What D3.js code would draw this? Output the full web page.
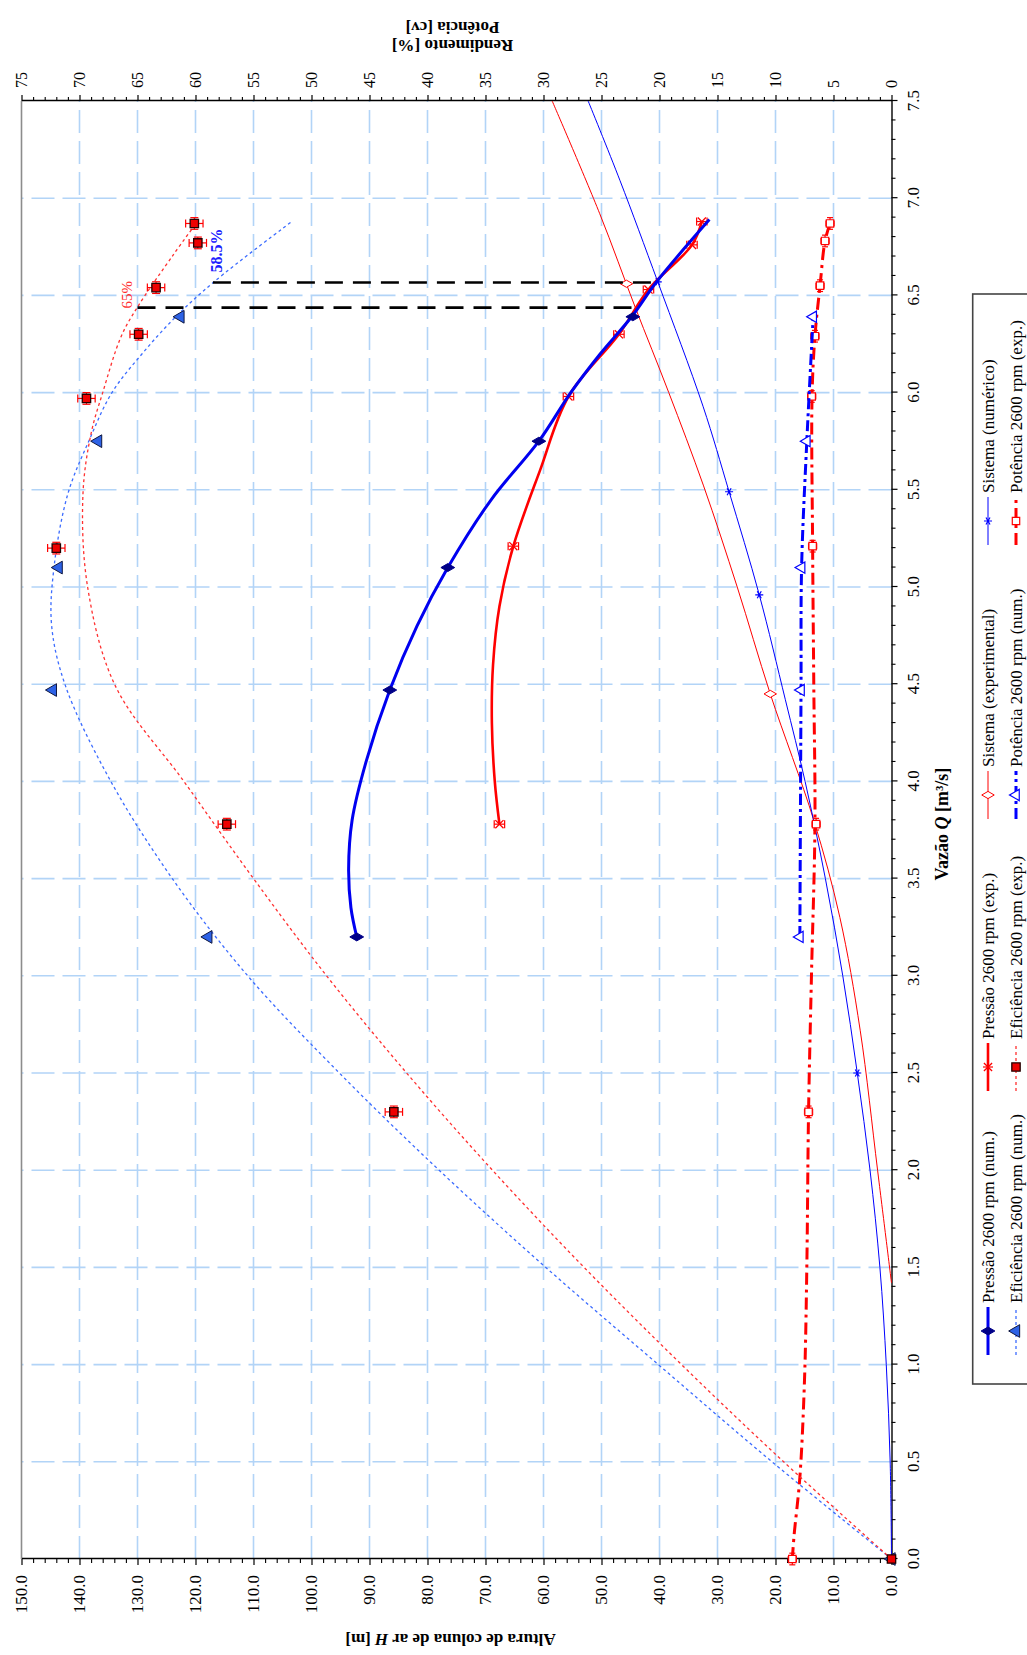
<!DOCTYPE html>
<html>
<head>
<meta charset="utf-8">
<script src="https://cdn.jsdelivr.net/npm/d3@7"></script>
<style>
  html, body { margin: 0; padding: 0; background: #ffffff; }
  svg { display: block; }
  text { font-family: "Liberation Serif", "Times New Roman", serif; fill: #000; }
</style>
</head>
<body>
<svg id="chart" width="1027" height="1655"></svg>
<script>
// ---------------- axis ticks ----------------
const qTickValues = [0.0, 0.5, 1.0, 1.5, 2.0, 2.5, 3.0, 3.5, 4.0, 4.5, 5.0, 5.5, 6.0, 6.5, 7.0, 7.5];
const hTickValues = [0, 10, 20, 30, 40, 50, 60, 70, 80, 90, 100, 110, 120, 130, 140, 150];
const rTickValues = [0, 5, 10, 15, 20, 25, 30, 35, 40, 45, 50, 55, 60, 65, 70, 75];

// ---------------- pressure (H, m) ----------------
const pressNumQ = [3.2, 4.47, 5.1, 5.75, 6.39];
const pressNumH = [92.2, 86.5, 76.5, 60.8, 44.6];
const pressNumFitQ = [3.2, 3.35, 3.55, 3.8, 4.1, 4.47, 4.8, 5.1, 5.45, 5.75, 6.0, 6.2, 6.39, 6.57, 6.89];
const pressNumFitH = [92.2, 93.2, 93.6, 93.0, 90.6, 86.5, 81.8, 76.5, 69.0, 60.8, 55.3, 50.2, 44.8, 40.5, 31.4];

const pressExpQ = [3.78, 5.21, 5.98, 6.30, 6.53, 6.76, 6.88];
const pressExpH = [67.6, 65.2, 55.7, 47.0, 41.9, 34.4, 32.7];
const pressExpFitQ = [3.78, 4.0, 4.3, 4.6, 4.9, 5.21, 5.6, 5.98, 6.30, 6.53, 6.76, 6.88];
const pressExpFitH = [67.6, 68.4, 68.9, 68.7, 67.6, 65.2, 60.6, 55.7, 47.0, 41.9, 34.4, 32.7];
const pressExpErr = 0.9;

// ---------------- system curves (H, m) ----------------
const sysExpQ = [1.42, 2.0, 2.72, 3.3, 3.8, 4.45, 5.0, 5.52, 6.0, 6.44, 6.92, 7.5];
const sysExpH = [0.0, 2.4, 5.4, 8.9, 13.4, 20.9, 26.6, 32.4, 38.4, 44.2, 50.3, 58.5];
const sysExpMarkQ = [4.45, 6.56];
const sysExpMarkH = [20.9, 45.7];

const sysNumQ = [0.0, 0.5, 1.0, 1.5, 2.0, 2.5, 3.0, 3.5, 4.0, 4.42, 4.96, 5.49, 5.93, 6.57, 7.09, 7.5];
const sysNumH = [0.0, 0.23, 0.9, 2.0, 3.7, 5.9, 8.4, 11.4, 14.9, 18.3, 22.8, 28.0, 32.5, 40.3, 46.8, 52.3];
const sysNumMarkQ = [2.5, 4.96, 5.49, 6.57];
const sysNumMarkH = [5.9, 22.8, 28.0, 40.3];

// ---------------- efficiency (%) ----------------
const effNumQ = [0.0, 3.2, 4.47, 5.1, 5.75, 6.39];
const effNumR = [0.0, 58.9, 72.3, 71.8, 68.4, 61.3];
const effNumFitQ = [0.0, 0.5, 1.0, 1.5, 2.0, 2.5, 3.0, 3.5, 4.0, 4.49, 4.8, 5.1, 5.48, 5.75, 6.0, 6.2, 6.39, 6.57, 6.88];
const effNumFitR = [0.0, 10.3, 20.1, 29.8, 39.0, 47.6, 55.5, 62.0, 67.3, 71.2, 72.4, 72.2, 71.0, 69.2, 67.2, 64.6, 61.7, 58.4, 51.7];

const effExpQ = [0.0, 2.30, 3.78, 5.20, 5.97, 6.30, 6.54, 6.77, 6.87];
const effExpR = [0.0, 42.9, 57.3, 72.0, 69.4, 64.9, 63.4, 59.8, 60.1];
const effExpFitQ = [0.0, 0.5, 1.0, 1.5, 2.0, 2.5, 3.0, 3.5, 4.0, 4.49, 5.0, 5.48, 5.79, 6.0, 6.29, 6.44, 6.71, 6.85];
const effExpFitR = [0.0, 9.3, 18.1, 26.5, 34.4, 41.8, 48.7, 55.0, 61.0, 66.9, 69.3, 69.7, 69.0, 68.0, 66.4, 65.0, 61.9, 60.2];
const effExpErrR = 0.75;
const effExpErrQ = 0.03;

// ---------------- power (cv) ----------------
const potNumQ = [3.2, 4.47, 5.1, 5.75, 6.39];
const potNumP = [7.9, 7.8, 7.75, 7.3, 6.75];

const potExpQ = [0.0, 2.30, 3.78, 5.21, 5.98, 6.29, 6.55, 6.78, 6.87];
const potExpP = [8.55, 7.15, 6.5, 6.8, 6.88, 6.6, 6.16, 5.73, 5.3];
const potExpFitQ = [0.0, 0.12, 0.42, 0.92, 1.5, 2.3, 3.0, 3.78, 4.5, 5.21, 5.98, 6.29, 6.55, 6.78, 6.87];
const potExpFitP = [8.55, 8.4, 7.9, 7.5, 7.3, 7.15, 6.9, 6.6, 6.7, 6.8, 6.85, 6.6, 6.16, 5.73, 5.3];
const potExpErr = 0.35;

// ---------------- operating points ----------------
const opQ = [6.437, 6.566];
const opEff = [65, 58.5];
const opH = [44.2, 40.5];
const opLabels = ["65%", "58.5%"];

// ---------------- legend ----------------
const legendLabels = [
  ["Pressão 2600 rpm (num.)", "Pressão 2600 rpm (exp.)", "Sistema (experimental)", "Sistema (numérico)"],
  ["Eficiência 2600 rpm (num.)", "Eficiência 2600 rpm (exp.)", "Potência 2600 rpm (num.)", "Potência 2600 rpm (exp.)"]
];
const legendKeys = [
  ["pressNum", "pressExp", "sysExp", "sysNum"],
  ["effNum", "effExp", "potNum", "potExp"]
];

// ---------------- styles ----------------
const styles = {
  pressNum: { color: "#0000f0", width: 3, dash: null, marker: "diamond", msize: 55, mfill: "#000088", mstroke: "#000088", mw: 1 },
  pressExp: { color: "#ff0000", width: 2.6, dash: null, marker: "times", msize: 45, mfill: "none", mstroke: "#ff0000", mw: 1.3 },
  sysExp:   { color: "#ff0000", width: 1, dash: null, marker: "diamond", msize: 45, mfill: "#ffffff", mstroke: "#ff0000", mw: 1 },
  sysNum:   { color: "#0000ff", width: 1, dash: null, marker: "asterisk", msize: 45, mfill: "none", mstroke: "#0000ff", mw: 1.2 },
  effNum:   { color: "#3c6cff", width: 1.3, dash: "3,3", marker: "triangle", msize: 70, mfill: "#2d62e6", mstroke: "#101840", mw: 1 },
  effExp:   { color: "#ff3030", width: 1.3, dash: "3,3", marker: "square", msize: 70, mfill: "#ee0000", mstroke: "#220000", mw: 1.3 },
  potNum:   { color: "#0000ff", width: 3, dash: "11,4,3,4", marker: "triangle", msize: 55, mfill: "#ffffff", mstroke: "#0000ff", mw: 1.2 },
  potExp:   { color: "#ff0000", width: 3, dash: "12,5,3,5", marker: "square", msize: 55, mfill: "#ffffff", mstroke: "#ff0000", mw: 1.2 }
};

// ---------------- layout ----------------
// The chart is built in its natural landscape frame and then turned a quarter
// turn counter-clockwise so that it fills the portrait page.
const svg = d3.select("#chart");
const root = svg.append("g").attr("transform", "translate(0,1655) rotate(-90)");

const x = d3.scaleLinear().domain([0, 7.5]).range([96, 1554]);
const yH = d3.scaleLinear().domain([0, 150]).range([891.5, 21.5]);
const yR = d3.scaleLinear().domain([0, 75]).range([891.5, 21.5]);

const zip = (a, b) => a.map((v, i) => [v, b[i]]);

// ---------------- grid ----------------
const grid = root.append("g")
  .attr("stroke", "#b2d4f7").attr("stroke-width", 1.6).attr("stroke-dasharray", "23,8").attr("fill", "none");
grid.selectAll("line.gv").data(qTickValues.filter(v => v > 0 && v < 7.5)).join("line")
  .attr("class", "gv")
  .attr("x1", d => x(d)).attr("x2", d => x(d))
  .attr("y1", yH(0)).attr("y2", yH(150));
grid.selectAll("line.gh").data(hTickValues.filter(v => v > 0 && v < 150)).join("line")
  .attr("class", "gh")
  .attr("x1", x(0)).attr("x2", x(7.5))
  .attr("y1", d => yH(d)).attr("y2", d => yH(d));

// top frame
root.append("line")
  .attr("x1", x(0)).attr("x2", x(7.5)).attr("y1", yH(150)).attr("y2", yH(150))
  .attr("stroke", "#8c8c8c").attr("stroke-width", 1.6);

// ---------------- axes ----------------
function styleAxis(g, size) {
  g.attr("font-family", null).attr("font-size", null);
  g.select(".domain").attr("stroke", "#000").attr("stroke-width", 1.4);
  g.selectAll(".tick line").attr("stroke", "#000").attr("stroke-width", 1.2);
  g.selectAll(".tick text").style("font-size", size + "px").attr("fill", "#000");
}

const qMinor = d3.range(0, 75.01, 1).map(v => v / 10).filter(v => Math.round(v * 10) % 5 !== 0);
const hMinor = d3.range(0, 150.01, 2).filter(v => v % 10 !== 0);
const rMinor = d3.range(0, 75.01, 1).filter(v => v % 5 !== 0);

const gQ = root.append("g").attr("transform", `translate(0,${yH(0)})`)
  .call(d3.axisBottom(x).tickValues(qTickValues).tickFormat(d3.format(".1f")).tickSize(6).tickPadding(9).tickSizeOuter(0));
styleAxis(gQ, 17);
root.append("g").attr("transform", `translate(0,${yH(0)})`)
  .call(d3.axisBottom(x).tickValues(qMinor).tickFormat("").tickSize(4).tickSizeOuter(0))
  .call(g => { g.select(".domain").remove(); g.selectAll("line").attr("stroke", "#000").attr("stroke-width", 1.1); });

const gH = root.append("g").attr("transform", `translate(${x(0)},0)`)
  .call(d3.axisLeft(yH).tickValues(hTickValues).tickFormat(d3.format(".1f")).tickSize(6).tickPadding(10).tickSizeOuter(0));
styleAxis(gH, 17);
root.append("g").attr("transform", `translate(${x(0)},0)`)
  .call(d3.axisLeft(yH).tickValues(hMinor).tickFormat("").tickSize(4).tickSizeOuter(0))
  .call(g => { g.select(".domain").remove(); g.selectAll("line").attr("stroke", "#000").attr("stroke-width", 1.1); });

const gR = root.append("g").attr("transform", `translate(${x(7.5)},0)`)
  .call(d3.axisRight(yR).tickValues(rTickValues).tickFormat(d3.format("d")).tickSize(6).tickPadding(7).tickSizeOuter(0));
styleAxis(gR, 16);
root.append("g").attr("transform", `translate(${x(7.5)},0)`)
  .call(d3.axisRight(yR).tickValues(rMinor).tickFormat("").tickSize(4).tickSizeOuter(0))
  .call(g => { g.select(".domain").remove(); g.selectAll("line").attr("stroke", "#000").attr("stroke-width", 1.1); });

// ---------------- axis titles ----------------
const tQ = root.append("text")
  .attr("x", (x(0) + x(7.5)) / 2 + 6).attr("y", 948)
  .attr("text-anchor", "middle").style("font-size", "18px").style("font-weight", "bold");
tQ.append("tspan").text("Vazão ");
tQ.append("tspan").style("font-style", "italic").text("Q");
tQ.append("tspan").text(" [m³/s]");

const tH = root.append("text")
  .attr("transform", `translate(21,${(yH(0) + yH(150)) / 2 - 6}) rotate(-90)`)
  .attr("text-anchor", "middle").style("font-size", "17px").style("font-weight", "bold");
tH.append("tspan").text("Altura de coluna de ar ");
tH.append("tspan").style("font-style", "italic").text("H");
tH.append("tspan").text(" [m]");

const tR = root.append("text")
  .attr("transform", `translate(1615,${(yR(0) + yR(75)) / 2 - 4}) rotate(-90)`)
  .attr("text-anchor", "middle").style("font-size", "17px").style("font-weight", "bold");
tR.append("tspan").attr("x", 0).attr("dy", 0).text("Rendimento [%]");
tR.append("tspan").attr("x", 0).attr("dy", 18).text("Potência [cv]");

// ---------------- series helpers ----------------
const symbolTypes = {
  diamond: d3.symbolDiamond, square: d3.symbolSquare, triangle: d3.symbolTriangle,
  times: d3.symbolTimes, asterisk: d3.symbolAsterisk
};
const smooth = d3.line().curve(d3.curveCatmullRom.alpha(0.5));

function drawLine(pts, st) {
  root.append("path")
    .attr("d", smooth(pts))
    .attr("fill", "none")
    .attr("stroke", st.color)
    .attr("stroke-width", st.width)
    .attr("stroke-dasharray", st.dash)
    .attr("stroke-linejoin", "round");
}
function drawMarkers(parent, pts, st) {
  parent.selectAll(null).data(pts).join("path")
    .attr("transform", d => `translate(${d[0]},${d[1]})`)
    .attr("d", d3.symbol().type(symbolTypes[st.marker]).size(st.msize))
    .attr("fill", st.mfill)
    .attr("stroke", st.mstroke)
    .attr("stroke-width", st.mw);
}
function drawErrorBars(pts, color, capHalf) {
  // pts: [cx, cy, yLow, yHigh, xLow, xHigh]
  const g = root.append("g").attr("stroke", color).attr("stroke-width", 1.2).attr("fill", "none");
  pts.forEach(p => {
    const [cx, cy, y0, y1, x0, x1] = p;
    g.append("line").attr("x1", cx).attr("x2", cx).attr("y1", y0).attr("y2", y1);
    g.append("line").attr("x1", cx - capHalf).attr("x2", cx + capHalf).attr("y1", y0).attr("y2", y0);
    g.append("line").attr("x1", cx - capHalf).attr("x2", cx + capHalf).attr("y1", y1).attr("y2", y1);
    if (x0 !== undefined) {
      g.append("line").attr("x1", x0).attr("x2", x1).attr("y1", cy).attr("y2", cy);
      g.append("line").attr("x1", x0).attr("x2", x0).attr("y1", cy - capHalf).attr("y2", cy + capHalf);
      g.append("line").attr("x1", x1).attr("x2", x1).attr("y1", cy - capHalf).attr("y2", cy + capHalf);
    }
  });
}

// ---------------- system curves ----------------
drawLine(zip(sysExpQ, sysExpH).map(d => [x(d[0]), yH(d[1])]), styles.sysExp);
drawLine(zip(sysNumQ, sysNumH).map(d => [x(d[0]), yH(d[1])]), styles.sysNum);
drawMarkers(root.append("g"), zip(sysExpMarkQ, sysExpMarkH).map(d => [x(d[0]), yH(d[1])]), styles.sysExp);
drawMarkers(root.append("g"), zip(sysNumMarkQ, sysNumMarkH).map(d => [x(d[0]), yH(d[1])]), styles.sysNum);

// ---------------- power ----------------
drawLine(zip(potExpFitQ, potExpFitP).map(d => [x(d[0]), yR(d[1])]), styles.potExp);
drawErrorBars(zip(potExpQ, potExpP).map(d => [x(d[0]), yR(d[1]), yR(d[1] - potExpErr), yR(d[1] + potExpErr), x(d[0] - effExpErrQ), x(d[0] + effExpErrQ)]), "#ff0000", 3);
drawMarkers(root.append("g"), zip(potExpQ, potExpP).map(d => [x(d[0]), yR(d[1])]), styles.potExp);

drawLine(zip(potNumQ, potNumP).map(d => [x(d[0]), yR(d[1])]), styles.potNum);
drawMarkers(root.append("g"), zip(potNumQ, potNumP).map(d => [x(d[0]), yR(d[1])]), styles.potNum);

// ---------------- efficiency ----------------
drawLine(zip(effNumFitQ, effNumFitR).map(d => [x(d[0]), yR(d[1])]), styles.effNum);
drawLine(zip(effExpFitQ, effExpFitR).map(d => [x(d[0]), yR(d[1])]), styles.effExp);
drawMarkers(root.append("g"), zip(effNumQ, effNumR).map(d => [x(d[0]), yR(d[1])]), styles.effNum);
drawErrorBars(zip(effExpQ, effExpR).filter(d => d[0] > 0).map(d => [x(d[0]), yR(d[1]), yR(d[1] - effExpErrR), yR(d[1] + effExpErrR), x(d[0] - effExpErrQ), x(d[0] + effExpErrQ)]), "#ff0000", 4);
drawMarkers(root.append("g"), zip(effExpQ, effExpR).map(d => [x(d[0]), yR(d[1])]), styles.effExp);

// ---------------- pressure ----------------
drawLine(zip(pressExpFitQ, pressExpFitH).map(d => [x(d[0]), yH(d[1])]), styles.pressExp);
drawErrorBars(zip(pressExpQ, pressExpH).map(d => [x(d[0]), yH(d[1]), yH(d[1] - pressExpErr), yH(d[1] + pressExpErr)]), "#ff0000", 4);
drawMarkers(root.append("g"), zip(pressExpQ, pressExpH).map(d => [x(d[0]), yH(d[1])]), styles.pressExp);

drawLine(zip(pressNumFitQ, pressNumFitH).map(d => [x(d[0]), yH(d[1])]), styles.pressNum);
drawMarkers(root.append("g"), zip(pressNumQ, pressNumH).map(d => [x(d[0]), yH(d[1])]), styles.pressNum);

// ---------------- operating points ----------------
root.append("g").selectAll("line").data(d3.range(opQ.length)).join("line")
  .attr("x1", i => x(opQ[i])).attr("x2", i => x(opQ[i]))
  .attr("y1", i => yR(opEff[i])).attr("y2", i => yH(opH[i]))
  .attr("stroke", "#000").attr("stroke-width", 2.6).attr("stroke-dasharray", "18,10");

root.append("text")
  .attr("x", x(opQ[0]) + 13).attr("y", yR(opEff[0]) - 11)
  .attr("text-anchor", "middle").attr("dominant-baseline", "central")
  .style("font-size", "15px").style("fill", "#ff3030").text(opLabels[0]);
root.append("text")
  .attr("x", x(opQ[1]) + 10).attr("y", yR(opEff[1]) + 4)
  .attr("text-anchor", "start").attr("dominant-baseline", "central")
  .style("font-size", "16px").style("font-weight", "bold").style("fill", "#2020ff").text(opLabels[1]);

// ---------------- legend ----------------
const legendBox = { x0: 271, x1: 1361, y0: 972.7, y1: 1060 };
root.append("rect")
  .attr("x", legendBox.x0).attr("y", legendBox.y0)
  .attr("width", legendBox.x1 - legendBox.x0).attr("height", legendBox.y1 - legendBox.y0)
  .attr("fill", "#fff").attr("stroke", "#444").attr("stroke-width", 1.6);

const colX = [300, 564, 836, 1110];
const rowY = [988, 1016];
legendKeys.forEach((row, r) => {
  row.forEach((key, c) => {
    const st = styles[key];
    const lx = colX[c], ly = rowY[r];
    const g = root.append("g");
    g.append("line")
      .attr("x1", lx).attr("x2", lx + 48).attr("y1", ly).attr("y2", ly)
      .attr("stroke", st.color).attr("stroke-width", st.width)
      .attr("stroke-dasharray", st.dash);
    if (key === "pressExp") {
      g.append("line").attr("x1", lx + 24).attr("x2", lx + 24).attr("y1", ly - 5).attr("y2", ly + 5)
        .attr("stroke", "#ff0000").attr("stroke-width", 1.2);
    }
    drawMarkers(g, [[lx + 24, ly]], st);
    g.append("text")
      .attr("x", lx + 52).attr("y", ly)
      .attr("dominant-baseline", "central")
      .style("font-size", "17px")
      .text(legendLabels[r][c]);
  });
});
</script>
</body>
</html>
